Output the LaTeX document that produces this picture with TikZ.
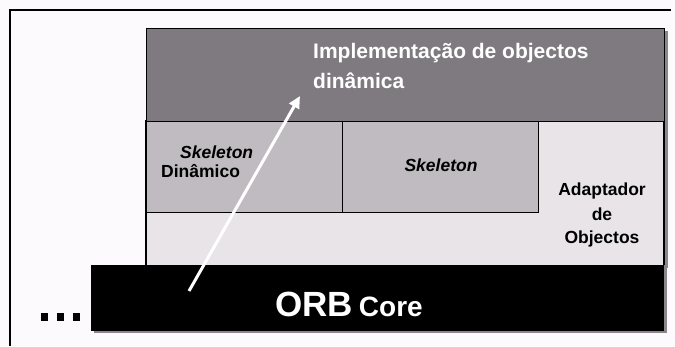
\documentclass[tikz,border=0pt]{standalone}
\usepackage{fontspec}
\setmainfont{Liberation Sans}
\usetikzlibrary{arrows.meta}
\definecolor{bgc}{HTML}{FDFAFD}
\definecolor{topc}{HTML}{7F7A80}
\definecolor{midc}{HTML}{E8E4E8}
\definecolor{skc}{HTML}{C0BBC0}
\definecolor{shc}{HTML}{8A868B}
\tikzset{
  box/.style={draw=black, line width=1.2pt},
  wtxt/.style={text=white, font=\bfseries\fontsize{21}{24}\selectfont, inner sep=0pt, anchor=base west},
  btxt/.style={text=black, font=\bfseries\fontsize{17.5}{20}\selectfont, inner sep=0pt},
  itxt/.style={text=black, font=\bfseries\itshape\fontsize{17.5}{20}\selectfont, inner sep=0pt},
}
\begin{document}
\begin{tikzpicture}[x=1pt,y=-1pt]
\useasboundingbox (0,0) rectangle (675,346);
\fill[bgc] (0,0) rectangle (675,346);
% outer frame
\draw[line width=2pt] (10,346) -- (10,10) -- (671,10);
% shadow of main block
\fill[shc] (149,31) rectangle (668,268);
% middle light region
\fill[midc] (146,121) rectangle (664,265);
\draw[box] (146,265) -- (146,121) -- (664,121) -- (664,265);
% top box
\node[box, fill=topc, minimum width=518pt, minimum height=93pt, anchor=north west, inner sep=0pt] (impl) at (146,28) {};
% skeleton boxes
\node[box, fill=skc, minimum width=196pt, minimum height=91pt, anchor=north west, inner sep=0pt] (skd) at (146,121) {};
\node[box, fill=skc, minimum width=196pt, minimum height=91pt, anchor=north west, inner sep=0pt] (sk) at (342,121) {};
% texts
\node[wtxt] (t1) at (313,58) {Implementação de objectos};
\node[wtxt] (t2) at (313,88) {dinâmica};
\node[itxt, anchor=base west] (skt1) at (180,158) {Skeleton};
\node[btxt, anchor=base west] (skt2) at (161,177) {Dinâmico};
\node[itxt, anchor=base] (skt3) at (441,171) {Skeleton};
\node[btxt, anchor=base] (ad1) at (602,195) {Adaptador};
\node[btxt, anchor=base] (ad2) at (602,220) {de};
\node[btxt, anchor=base] (ad3) at (602,243) {Objectos};
% ORB core
\fill[shc] (94,268) rectangle (667,333);
\node[fill=black, draw=black, minimum width=572pt, minimum height=65pt, anchor=north west, inner sep=0pt] (orb) at (91,265) {};
\node[text=white, inner sep=0pt, anchor=base west] (orbt) at (275,316) {\bfseries\fontsize{35}{38}\selectfont ORB\hspace{6pt}\fontsize{28}{30}\selectfont Core};
% dots
\node[inner sep=0pt] (dots) at (60.5,317) {\tikz[x=1pt,y=-1pt]{\foreach \i in {0,16,32}{\fill (\i,0) rectangle ++(7.8,7.8);}}};
% arrow
\coordinate (a0) at (189,291);
\coordinate (a1) at (300,96);
\draw[white, line width=3pt, -{Triangle[length=12pt,width=11pt]}] (a0) -- (a1);
\end{tikzpicture}
\end{document}
